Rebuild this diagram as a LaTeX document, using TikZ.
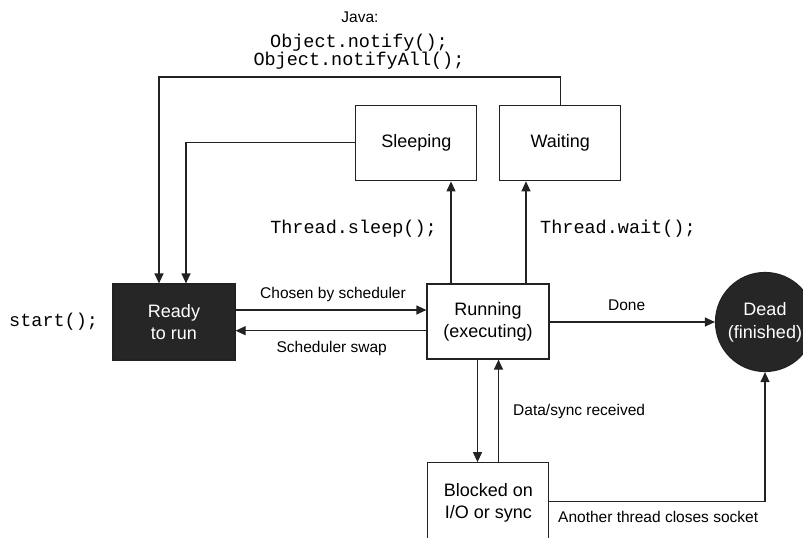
\documentclass[tikz,border=0pt]{standalone}
\usepackage{fontspec}
\setmainfont{Liberation Sans}
\setmonofont{Liberation Mono}
\usetikzlibrary{arrows.meta,calc}
\definecolor{ink}{HTML}{222222}
\definecolor{darkfill}{HTML}{262626}
\tikzset{
  boxstate/.style={draw=ink,line width=1.2pt,fill=white,minimum width=121pt,minimum height=75pt,inner sep=0pt,align=center,font=\fontsize{18}{22}\selectfont},
  darkstate/.style={boxstate,fill=darkfill,text=white},
  deadstate/.style={circle,draw=ink,line width=1.2pt,fill=darkfill,text=white,minimum size=99pt,inner sep=0pt,align=center,font=\fontsize{18}{23}\selectfont},
  conn/.style={draw=ink,line width=1.2pt,-{Triangle[length=10pt,width=9pt]}},
  elabel/.style={inner sep=0pt,font=\fontsize{15.5}{18}\selectfont},
  code/.style={inner sep=0pt,font=\ttfamily\fontsize{18.5}{18}\selectfont},
}
\begin{document}
\begin{tikzpicture}[x=1pt,y=-1pt]
\useasboundingbox (0,0) rectangle (803,538);
% nodes
\node[darkstate,minimum width=122pt,minimum height=76pt] (ready) at (174,322) {Ready\\to run};
\node[boxstate,minimum width=122pt] (running) at (488,321.5) {Running\\(executing)};
\node[boxstate] (sleeping) at (416.3,143.3) {Sleeping};
\node[boxstate] (waiting) at (560.3,143.2) {Waiting};
\node[boxstate,minimum height=80pt] (blocked) at (488.3,502.7) {Blocked on\\I/O or sync};
\node[deadstate] (dead) at (765,322) {Dead\\(finished)};
% texts
\node[elabel] (java) at (360,17) {Java:};
\node[code] (notify) at (359,43) {Object.notify();};
\node[code] (notifyall) at (359,61) {Object.notifyAll();};
\node[code,anchor=east] (sleepcall) at (437,229) {Thread.sleep();};
\node[code,anchor=west] (waitcall) at (540,229) {Thread.wait();};
\node[code,anchor=west] (startcall) at (9,322) {start();};
\node[elabel] (chosen) at (333,294) {Chosen by scheduler};
\node[elabel] (swap) at (331.7,348) {Scheduler swap};
\node[elabel] (done) at (626.7,305) {Done};
\node[elabel,anchor=west] (datasync) at (513,411.7) {Data/sync received};
\node[elabel,anchor=west] (another) at (558,517) {Another thread closes socket};
% coordinates for loops
\coordinate (c1) at (560.3,77);
\coordinate (c2) at (159,77);
\coordinate (c3) at (186,142.7);
\coordinate (c4) at (765,501.7);
\coordinate (r1) at (235,310);
\coordinate (r2) at (235,330.7);
% connectors
\draw[conn] (waiting.north -| c1) -- (c1) -- (c2) -- (c2 |- ready.north);
\draw[conn] (sleeping.west |- c3) -- (c3) -- (c3 |- ready.north);
\draw[conn] ([xshift=-37pt]running.north) -- ([xshift=-37pt]running.north |- sleeping.south);
\draw[conn] ([xshift=38pt]running.north) -- ([xshift=38pt]running.north |- waiting.south);
\draw[conn] (ready.east |- r1) -- (running.west |- r1);
\draw[conn] (running.west |- r2) -- (ready.east |- r2);
\draw[conn] (running.east |- dead.west) -- (dead.west);
\draw[conn] ([xshift=-10.5pt]running.south) -- ([xshift=-10.5pt]running.south |- blocked.north);
\draw[conn] ([xshift=10.5pt]running.south |- blocked.north) -- ([xshift=10.5pt]running.south);
\draw[conn] (blocked.east |- c4) -- (c4) -- (dead.south);
\end{tikzpicture}
\end{document}
